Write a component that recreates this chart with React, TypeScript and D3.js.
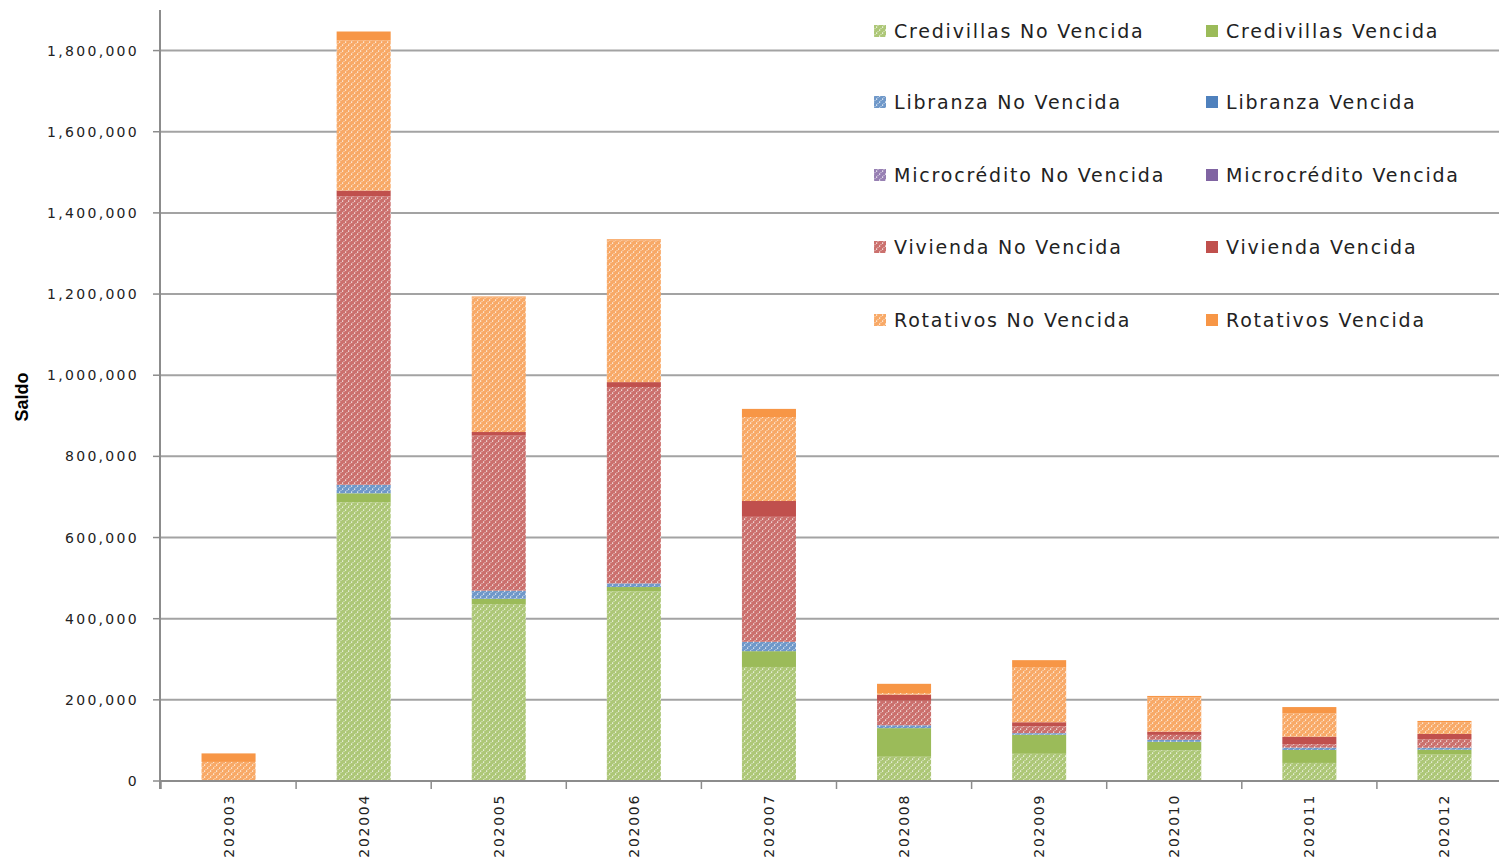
import React from 'react';
import * as d3 from 'd3';

const categories = ['202003', '202004', '202005', '202006', '202007', '202008', '202009', '202010', '202011', '202012'];

const credivillasNoVencida = [0, 687000, 436000, 467000, 281000, 59700, 67000, 75600, 44500, 65000];
const credivillasVencida = [0, 22000, 13000, 11000, 39000, 70600, 47000, 21000, 32000, 12000];
const libranzaNoVencida = [500, 21000, 20000, 9000, 23000, 7000, 4000, 5000, 5800, 5000];
const libranzaVencida = [0, 0, 0, 0, 0, 0, 0, 0, 0, 0];
const microNoVencida = [0, 0, 0, 0, 0, 0, 0, 0, 0, 0];
const microVencida = [0, 0, 0, 0, 0, 0, 0, 0, 0, 0];
const viviendaNoVencida = [1500, 711000, 382000, 484000, 308000, 60500, 16800, 12000, 8400, 21000];
const viviendaVencida = [0, 14000, 9000, 12000, 39000, 15000, 10000, 8000, 18500, 13000];
const rotativosNoVencida = [45000, 370000, 331500, 349000, 207000, 4000, 136000, 84000, 57000, 29000];
const rotativosVencida = [21000, 22000, 2500, 3000, 20000, 22700, 17000, 4000, 16000, 3000];

const yTicks = [0, 200000, 400000, 600000, 800000, 1000000, 1200000, 1400000, 1600000, 1800000];

const seriesNames = [
  'Credivillas No Vencida', 'Credivillas Vencida',
  'Libranza No Vencida', 'Libranza Vencida',
  'Microcrédito No Vencida', 'Microcrédito Vencida',
  'Vivienda No Vencida', 'Vivienda Vencida',
  'Rotativos No Vencida', 'Rotativos Vencida',
];
const seriesValues = [
  credivillasNoVencida, credivillasVencida,
  libranzaNoVencida, libranzaVencida,
  microNoVencida, microVencida,
  viviendaNoVencida, viviendaVencida,
  rotativosNoVencida, rotativosVencida,
];
const baseColors = ['#9BBB59', '#4F81BD', '#8064A2', '#C0504D', '#F79646'];

export default function App() {
  const W = 1499, H = 857;
  const left = 161, right = 1512, top = 10, bottom = 781;
  const x = d3.scaleBand<string>().domain(categories).range([left, right]).paddingInner(0.6).paddingOuter(0.3);
  const y = d3.scaleLinear().domain([0, 1900000]).range([bottom, top]);

  const rows = categories.map((c, i) => {
    const o: any = { cat: c };
    seriesNames.forEach((n, k) => { o[n] = seriesValues[k][i]; });
    return o;
  });
  const stacked = d3.stack().keys(seriesNames)(rows);

  const fillFor = (k: number) => {
    const col = baseColors[Math.floor(k / 2)];
    return k % 2 === 0 ? `url(#pat${Math.floor(k / 2)})` : col;
  };

  const step = x.step();
  const fmt = d3.format(',');
  const gridColor = '#A3A3A3';
  const axisColor = '#8C8C8C';
  const tickFont = "'DejaVu Sans', Verdana, sans-serif";

  const legendX = [874, 1206];
  const legendY = [31, 102, 175, 247, 320];

  return (
    <svg width={W} height={H} style={{ position: 'absolute', left: 0, top: 0, background: '#fff' }}>
      <defs>
        {baseColors.map((c, i) => (
          <pattern key={i} id={`pat${i}`} width={6} height={6} patternUnits="userSpaceOnUse">
            <rect width={6} height={6} fill={c} />
            <rect x={0} y={0} width={6} height={6} fill="#fff" opacity={0.18} />
            <rect x={0} y={2.5} width={1.2} height={1.2} fill="#fff" />
            <rect x={3} y={-0.5} width={1.2} height={1.2} fill="#fff" />
            <rect x={3} y={5.5} width={1.2} height={1.2} fill="#fff" />
            <rect x={1.5} y={1} width={1} height={1} fill="#fff" opacity={0.6} />
            <rect x={4.5} y={4} width={1} height={1} fill="#fff" opacity={0.6} />
          </pattern>
        ))}
      </defs>

      {/* gridlines */}
      {yTicks.filter(t => t > 0).map(t => (
        <line key={t} x1={left - 1} x2={W} y1={y(t)} y2={y(t)} stroke={gridColor} strokeWidth={2} />
      ))}

      {/* bars */}
      {stacked.map((layer, k) => (
        <g key={k}>
          {layer.map((d, i) => {
            const h = y(d[0]) - y(d[1]);
            if (h <= 0) return null;
            return (
              <rect key={i} x={x(categories[i])!} y={y(d[1])} width={x.bandwidth()} height={h} fill={fillFor(k)} />
            );
          })}
        </g>
      ))}

      {/* y axis */}
      <line x1={left - 1} x2={left - 1} y1={top} y2={bottom + 8} stroke={axisColor} strokeWidth={2} />
      {yTicks.map(t => (
        <g key={t}>
          <line x1={left - 8} x2={left - 1} y1={y(t)} y2={y(t)} stroke={axisColor} strokeWidth={1.5} />
          <text x={139} y={y(t)} dy="0.36em" textAnchor="end" fontFamily={tickFont} fontSize={14}
            letterSpacing={2.3} fill="#222">{fmt(t)}</text>
        </g>
      ))}

      {/* x axis */}
      <line x1={left - 1} x2={W} y1={bottom} y2={bottom} stroke={axisColor} strokeWidth={2} />
      {categories.map((c, i) => (
        <line key={'t' + i} x1={left + i * step} x2={left + i * step} y1={bottom} y2={bottom + 8} stroke={axisColor} strokeWidth={1.5} />
      ))}
      {categories.map(c => {
        const cx = x(c)! + x.bandwidth() / 2;
        return (
          <text key={c} transform={`translate(${cx + 5},${794}) rotate(-90)`} textAnchor="end"
            fontFamily={tickFont} fontSize={14} letterSpacing={1.7} fill="#222">{c}</text>
        );
      })}

      {/* y title */}
      <text transform={`translate(28,397) rotate(-90)`} textAnchor="middle"
        fontFamily="'Liberation Sans Narrow', 'Arial Narrow', 'Liberation Sans', sans-serif"
        fontWeight="bold" fontSize={18} fill="#000">Saldo</text>

      {/* legend */}
      {seriesNames.map((n, k) => {
        const lx = legendX[k % 2];
        const ly = legendY[Math.floor(k / 2)];
        return (
          <g key={n}>
            <rect x={lx} y={ly - 6} width={12} height={12} fill={fillFor(k)} />
            <text x={lx + 20} y={ly} dy="0.36em" fontFamily={tickFont} fontSize={19}
              letterSpacing={1.8} fill="#222">{n}</text>
          </g>
        );
      })}
    </svg>
  );
}
